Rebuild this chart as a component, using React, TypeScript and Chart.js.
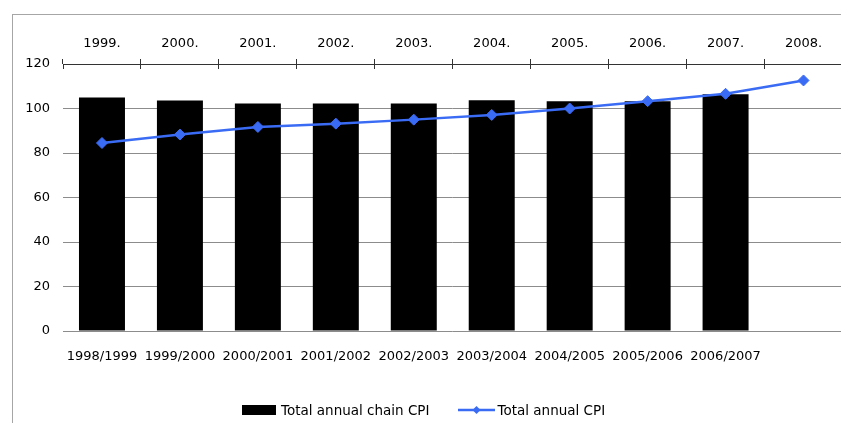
import React, { useEffect, useRef } from "react";
import { Chart, registerables } from "chart.js";

Chart.register(...registerables);

// ---- data ----
const periodLabels = [
  "1998/1999", "1999/2000", "2000/2001", "2001/2002", "2002/2003",
  "2003/2004", "2004/2005", "2005/2006", "2006/2007", "",
];
const yearLabels = [
  "1999.", "2000.", "2001.", "2002.", "2003.",
  "2004.", "2005.", "2006.", "2007.", "2008.",
];
const chainCpi = [105.0, 103.6, 102.2, 102.2, 102.2, 103.7, 103.3, 103.3, 106.4, null];
const annualCpi = [84.5, 88.3, 91.7, 93.2, 95.0, 97.1, 100.0, 103.3, 106.6, 112.6];
const chainLabel = "Total annual chain CPI";
const annualLabel = "Total annual CPI";
const yMin = 0;
const yMax = 120;
const yStep = 20;

// ---- styles ----
const BAR_COLOR = "#000000";
const LINE_COLOR = "#3a6bf5";
const GRID_COLOR = "#8c8c8c";
const AXIS_COLOR = "#333333";
const TEXT_COLOR = "#000000";
const FONT_FAMILY = '"DejaVu Sans", sans-serif';

const topTicksPlugin = {
  id: "topTicksDown",
  afterDraw(chart: any) {
    const s = chart.scales.xTop;
    if (!s) return;
    const ctx = chart.ctx;
    const n = s.getLabels().length;
    const step = s.width / n;
    ctx.save();
    ctx.strokeStyle = AXIS_COLOR;
    ctx.lineWidth = 1;
    for (let i = 0; i <= n; i++) {
      const x = Math.floor(s.left + i * step) + 0.5;
      ctx.beginPath();
      ctx.moveTo(x, s.bottom);
      ctx.lineTo(x, s.bottom + 5);
      ctx.stroke();
    }
    ctx.restore();
  },
};

function ChartCanvas() {
  const ref = useRef<HTMLCanvasElement | null>(null);
  useEffect(() => {
    if (!ref.current) return;
    const font = { family: FONT_FAMILY, size: 13 };
    const chart = new Chart(ref.current, {
      type: "bar",
      data: {
        labels: periodLabels,
        datasets: [
          {
            type: "line",
            label: annualLabel,
            data: annualCpi,
            borderColor: LINE_COLOR,
            backgroundColor: LINE_COLOR,
            borderWidth: 2.5,
            pointStyle: "rectRot",
            pointRadius: 5.5,
            pointBorderWidth: 1,
            pointBackgroundColor: LINE_COLOR,
            pointBorderColor: LINE_COLOR,
            tension: 0,
            order: 0,
            xAxisID: "x",
            yAxisID: "y",
          } as any,
          {
            type: "bar",
            label: chainLabel,
            data: chainCpi,
            backgroundColor: BAR_COLOR,
            barPercentage: 0.59,
            categoryPercentage: 1,
            order: 1,
            xAxisID: "x",
            yAxisID: "y",
          } as any,
        ],
      },
      options: {
        animation: false,
        responsive: false,
        maintainAspectRatio: false,
        devicePixelRatio: 1,
        layout: { padding: { left: 0, right: 1, top: 0, bottom: 0 } },
        plugins: {
          legend: { display: false },
          tooltip: { enabled: false },
          title: { display: false },
        },
        scales: {
          x: {
            type: "category",
            position: "bottom",
            offset: true,
            grid: { display: false, drawTicks: false, offset: true },
            border: { display: false },
            ticks: {
              padding: 18,
              font,
              color: TEXT_COLOR,
              autoSkip: false,
              maxRotation: 0,
              minRotation: 0,
            },
            afterFit: (s: any) => {
              s.height = 92;
            },
          },
          xTop: {
            type: "category",
            position: "top",
            labels: yearLabels,
            offset: true,
            grid: {
              offset: true,
              drawOnChartArea: false,
              drawTicks: true,
              tickLength: 5,
              color: AXIS_COLOR,
              lineWidth: 1,
            },
            border: { display: true, color: AXIS_COLOR, width: 1 },
            ticks: {
              padding: 8,
              font,
              color: TEXT_COLOR,
              autoSkip: false,
              maxRotation: 0,
              minRotation: 0,
            },
            afterFit: (s: any) => {
              s.height = 56;
            },
          },
          y: {
            type: "linear",
            position: "left",
            min: yMin,
            max: yMax,
            ticks: { stepSize: yStep, padding: 13, font, color: TEXT_COLOR },
            grid: {
              drawTicks: false,
              color: (c: any) => (c.tick && c.tick.value === yMax ? "rgba(0,0,0,0)" : GRID_COLOR),
              lineWidth: 1,
            },
            border: { display: false },
            afterFit: (s: any) => {
              s.width = 55;
            },
          },
        },
      } as any,
      plugins: [topTicksPlugin],
    });
    return () => chart.destroy();
  }, []);
  return (
    <canvas
      ref={ref}
      width={841}
      height={415}
      style={{ position: "absolute", left: 0, top: 0, width: 841, height: 415, display: "block" }}
    />
  );
}

export default function App() {
  return (
    <div style={{ position: "relative", width: 841, height: 415, overflow: "hidden" }}>
      <div
        style={{
          position: "absolute",
          left: 4,
          top: 6,
          width: 900,
          height: 500,
          borderLeft: "1px solid #a6a6a6",
          borderTop: "1px solid #a6a6a6",
        }}
      />
      <ChartCanvas />
      <div
        style={{
          position: "absolute",
          left: 234,
          top: 394,
          display: "flex",
          alignItems: "center",
          font: `13.5px ${FONT_FAMILY}`,
          lineHeight: "16px",
          color: TEXT_COLOR,
          whiteSpace: "nowrap",
        }}
      >
        <span style={{ display: "inline-block", width: 34, height: 10, background: BAR_COLOR, marginRight: 5 }} />
        <span>{chainLabel}</span>
        <svg width={37} height={10} style={{ marginLeft: 29, marginRight: 2, display: "block" }}>
          <line x1={0} y1={5} x2={37} y2={5} stroke={LINE_COLOR} strokeWidth={2.5} />
          <polygon points="18.5,1 22.5,5 18.5,9 14.5,5" fill={LINE_COLOR} />
        </svg>
        <span>{annualLabel}</span>
      </div>
    </div>
  );
}
